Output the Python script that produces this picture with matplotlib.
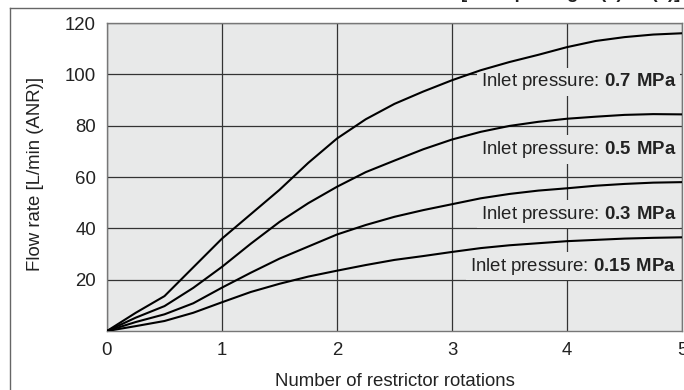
import matplotlib
matplotlib.use("Agg")
import matplotlib.pyplot as plt
from matplotlib.lines import Line2D

plt.rcParams['font.family'] = ['Liberation Sans', 'DejaVu Sans']
plt.rcParams['mathtext.fontset'] = 'custom'
plt.rcParams['mathtext.rm'] = 'Liberation Sans'
plt.rcParams['mathtext.bf'] = 'Liberation Sans:bold'

# number of restrictor rotations
rotations = [0, 0.25, 0.5, 0.75, 1.0, 1.25, 1.5, 1.75, 2.0, 2.25, 2.5,
             2.75, 3.0, 3.25, 3.5, 3.75, 4.0, 4.25, 4.5, 4.75, 5.0]

# flow rate [L/min (ANR)] per inlet pressure
flow_07 = [0, 7.1, 13.6, 24.8, 36.0, 45.5, 55.0, 65.5, 75.0, 82.5, 88.5,
           93.3, 97.7, 101.6, 104.8, 107.6, 110.6, 113.0, 114.5, 115.5, 116.0]
flow_05 = [0, 5.2, 9.7, 16.8, 25.0, 34.0, 42.5, 49.8, 56.2, 61.9, 66.4,
           70.8, 74.6, 77.6, 79.9, 81.5, 82.7, 83.5, 84.2, 84.5, 84.4]
flow_03 = [0, 3.5, 6.5, 10.8, 16.9, 22.7, 28.2, 32.9, 37.6, 41.3, 44.5,
           47.1, 49.4, 51.7, 53.4, 54.7, 55.6, 56.6, 57.3, 57.8, 58.0]
flow_015 = [0, 1.9, 3.9, 7.1, 11.2, 15.2, 18.4, 21.2, 23.5, 25.7, 27.7,
            29.2, 30.8, 32.3, 33.4, 34.2, 35.0, 35.5, 36.0, 36.3, 36.5]

series = [flow_07, flow_05, flow_03, flow_015]
pressures = ["0.7", "0.5", "0.3", "0.15"]
label_y = [97.1, 70.8, 45.5, 25.3]

x_ticks = [0, 1, 2, 3, 4, 5]
y_ticks = [20, 40, 60, 80, 100, 120]

bg = "#e8e9e9"
fs = 13.4

fig = plt.figure(figsize=(6.84, 3.90), dpi=100)
ax = fig.add_axes([107 / 684, 59 / 390, 575 / 684, 308 / 390])
ax.set_facecolor(bg)

for ys in series:
    ax.plot(rotations, ys, color="black", lw=1.5, zorder=4, solid_capstyle="round",
            solid_joinstyle="round")

for p, yl in zip(pressures, label_y):
    ax.text(4.948, yl, r"Inlet pressure: $\mathbf{%s\ MPa}$" % p,
            ha="right", va="center", fontsize=fs, color="#222222", zorder=3,
            bbox=dict(boxstyle="square,pad=0.2", fc=bg, ec="none"))

ax.set_xlim(0, 5)
ax.set_ylim(0, 120)
ax.set_xticks(x_ticks)
ax.set_yticks(y_ticks)
ax.tick_params(length=0, labelsize=fs, pad=8, colors="#222222")
ax.grid(True, color="#333333", lw=0.9, zorder=1)
ax.set_axisbelow(True)
for s in ax.spines.values():
    s.set_color("#777777")
    s.set_linewidth(1.0)

ax.set_xlabel("Number of restrictor rotations", fontsize=fs, color="#222222")
ax.xaxis.set_label_coords(0.5, -0.136)
ax.set_ylabel("Flow rate [L/min (ANR)]", fontsize=fs, color="#222222")
ax.yaxis.set_label_coords(-0.11, 0.51)

# outer frame (cut off at the right and bottom)
fig.add_artist(Line2D([10 / 684, 10 / 684], [0, 1 - 7.5 / 390], color="#666666", lw=1.0))
fig.add_artist(Line2D([10 / 684, 1], [1 - 7.5 / 390, 1 - 7.5 / 390], color="#666666", lw=1.0))

# title sits mostly above the visible area
fig.text(680 / 684, 1 + 1.5 / 390, "[Flow passage: (1) → (2)]", ha="right", va="baseline",
         fontsize=fs, fontweight="bold", color="#222222")

fig.savefig("out.png", dpi=100)
